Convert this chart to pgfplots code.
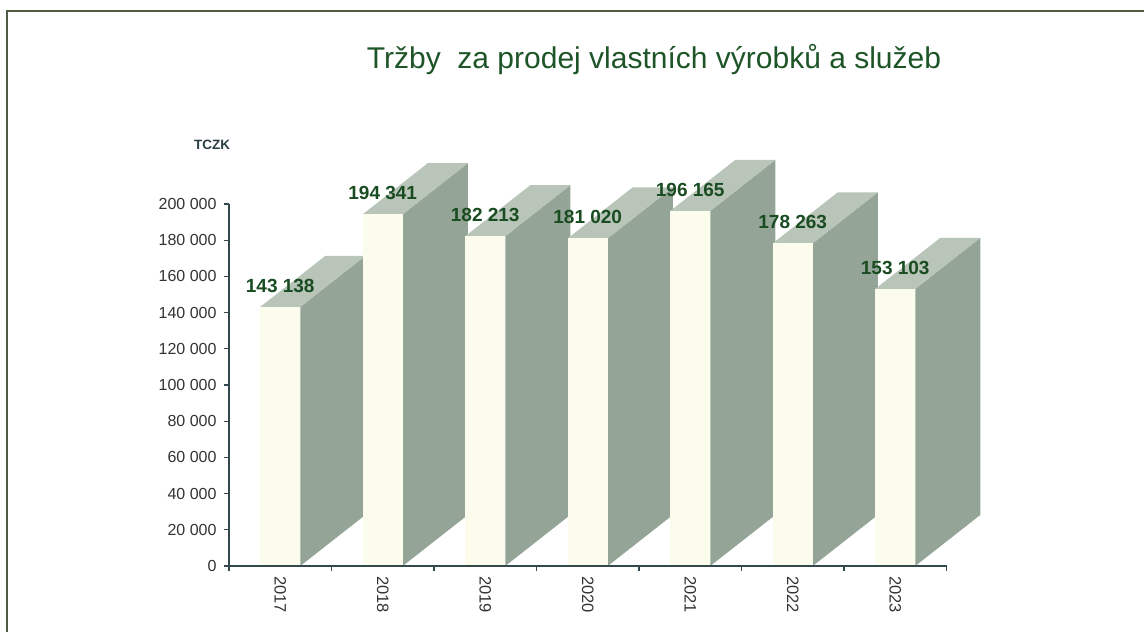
\documentclass[border=0pt]{standalone}
\usepackage{pgfplots}
\pgfplotsset{compat=1.18}
\usepackage{pgfplotstable}
\usepackage{fontspec}
\setmainfont{Liberation Sans}
\definecolor{frontc}{RGB}{252,252,236}
\definecolor{sidec}{RGB}{148,164,150}
\definecolor{topc}{RGB}{184,197,184}
\definecolor{labc}{RGB}{26,76,34}
\definecolor{titc}{RGB}{30,85,40}
\definecolor{axc}{RGB}{50,72,78}
\definecolor{framec}{RGB}{80,92,70}

\pgfplotstableread{
x y label
0.5 143138 {143 138}
1.5 194341 {194 341}
2.5 182213 {182 213}
3.5 181020 {181 020}
4.5 196165 {196 165}
5.5 178263 {178 263}
6.5 153103 {153 103}
}\data

\begin{document}
\begin{tikzpicture}[x=1pt,y=1pt]
\path[use as bounding box] (0,0) rectangle (1144,632);
\draw[framec, line width=2] (7,-2) -- (7,621) -- (1146,621);
\node[text=titc, font=\fontsize{30}{34}\selectfont] at (654,572) {Tržby\ \ za prodej vlastních výrobků a služeb};
\node[font=\bfseries\fontsize{13.5}{16}\selectfont, text=axc!85!black] at (212,487) {TCZK};
\begin{axis}[
  at={(229pt,66pt)}, anchor=south west, scale only axis,
  width=717.5pt, height=362pt,
  xmin=0, xmax=7, ymin=0, ymax=200000,
  clip=false, axis on top,
  axis x line=bottom, axis y line=left,
  axis line style={-, axc, line width=1.5pt},
  tick align=outside, major tick length=5pt,
  tick style={axc, line width=1.2pt},
  xtick={0,...,7}, xticklabels={},
  extra x ticks={0.5,1.5,...,6.5},
  extra x tick labels={2017,2018,2019,2020,2021,2022,2023},
  extra x tick style={major tick length=0pt,
     xticklabel style={rotate=-90, anchor=west, inner xsep=10pt, font=\fontsize{16.5}{19}\selectfont, text=black!80}},
  ytick={0,20000,...,200000},
  scaled y ticks=false,
  yticklabel style={font=\fontsize{16}{19}\selectfont, text=black!80, xshift=-4pt},
  /pgf/number format/fixed,
  /pgf/number format/precision=0,
  /pgf/number format/1000 sep={\ },
  /pgf/number format/assume math mode=true,
]
\pgfplotsinvokeforeach{0,...,6}{
 \pgfplotstablegetelem{#1}{x}\of\data \let\xv\pgfplotsretval
 \pgfplotstablegetelem{#1}{y}\of\data \let\yv\pgfplotsretval
 \edef\temp{%
 \noexpand\fill[sidec] ([xshift=20pt]axis cs:\xv,0) -- ([shift={(85pt,51pt)}]axis cs:\xv,0) -- ([shift={(85pt,51pt)}]axis cs:\xv,\yv) -- ([xshift=20pt]axis cs:\xv,\yv) -- cycle;
 \noexpand\fill[topc] ([xshift=-20pt]axis cs:\xv,\yv) -- ([xshift=20pt]axis cs:\xv,\yv) -- ([shift={(85pt,51pt)}]axis cs:\xv,\yv) -- ([shift={(45pt,51pt)}]axis cs:\xv,\yv) -- cycle;
 \noexpand\fill[frontc] ([xshift=-20pt]axis cs:\xv,0) rectangle ([xshift=20pt]axis cs:\xv,\yv);}
 \temp
}
\addplot[draw=none, mark=none, nodes near coords, point meta=explicit symbolic,
  every node near coord/.append style={anchor=center, yshift=21pt,
    font=\bfseries\fontsize{19}{22}\selectfont, text=labc}]
  table[x=x, y=y, meta=label] {\data};
\end{axis}
\end{tikzpicture}
\end{document}
